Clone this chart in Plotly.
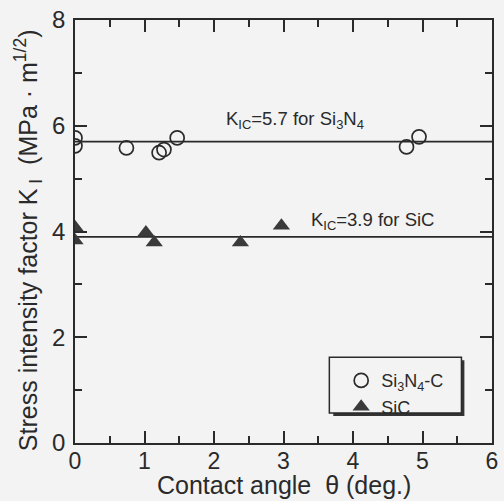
import plotly.graph_objects as go

# Data
si3n4_x = [0.0, 0.0, 0.74, 1.21, 1.28, 1.47, 4.77, 4.95]
si3n4_y = [5.77, 5.62, 5.58, 5.49, 5.55, 5.77, 5.60, 5.79]
sic_x = [0.0, 0.0, 1.02, 1.14, 2.38, 2.97]
sic_y = [4.08, 3.83, 3.98, 3.79, 3.79, 4.11]
kic_si3n4 = 5.7
kic_sic = 3.9
x_range = [0, 6]
y_range = [0, 8]

ink = "#2a2a2a"
paper = "#f3f3f3"
font = "Liberation Sans, Arial, sans-serif"

fig = go.Figure()

fig.add_trace(go.Scatter(x=x_range, y=[kic_si3n4, kic_si3n4], mode="lines",
                         line=dict(color=ink, width=1.8), showlegend=False, hoverinfo="skip"))
fig.add_trace(go.Scatter(x=x_range, y=[kic_sic, kic_sic], mode="lines",
                         line=dict(color=ink, width=1.8), showlegend=False, hoverinfo="skip"))

fig.add_trace(go.Scatter(x=si3n4_x, y=si3n4_y, mode="markers", name="Si<sub>3</sub>N<sub>4</sub>-C",
                         marker=dict(symbol="circle-open", size=14, color=ink, line=dict(width=1.7, color=ink))))
fig.add_trace(go.Scatter(x=sic_x, y=sic_y, mode="markers", name="SiC",
                         marker=dict(symbol="triangle-up", size=15, color="#3a3a3a", line=dict(width=0))))

fig.add_annotation(x=2.15, y=kic_si3n4, xref="x", yref="y", yshift=22,
                   text="K<sub>IC</sub>=5.7 for Si<sub>3</sub>N<sub>4</sub>", showarrow=False,
                   xanchor="left", font=dict(family=font, size=18.5, color=ink))
fig.add_annotation(x=3.37, y=kic_sic, xref="x", yref="y", yshift=16,
                   text="K<sub>IC</sub>=3.9 for SiC", showarrow=False,
                   xanchor="left", font=dict(family=font, size=18.5, color=ink))

# axis titles
fig.add_annotation(x=0.5, y=(443 - 485) / 424, xref="paper", yref="paper",
                   text="Contact angle  θ (deg.)", showarrow=False, xanchor="center", yanchor="middle",
                   font=dict(family=font, size=25, color=ink))
fig.add_annotation(x=(28 - 75) / 423, y=(443 - 240) / 424, xref="paper", yref="paper",
                   text="Stress intensity factor K<sub> I</sub>  (MPa · m<sup>1/2</sup>)", textangle=-90,
                   showarrow=False, xanchor="center", yanchor="middle",
                   font=dict(family=font, size=25, color=ink))

# legend shadow and frame
fig.add_shape(type="rect", xref="paper", yref="paper",
              x0=(337 - 75) / 423, x1=(470 - 75) / 423,
              y0=(443 - 416) / 424, y1=(443 - 360) / 424,
              fillcolor="#333333", line=dict(width=0), layer="below")
fig.add_shape(type="rect", xref="paper", yref="paper",
              x0=(333 - 75) / 423, x1=(467 - 75) / 423,
              y0=(443 - 413) / 424, y1=(443 - 357) / 424,
              fillcolor=paper, line=dict(width=1.5, color=ink), layer="below")

axis_common = dict(showgrid=False, zeroline=False, showline=True, linecolor=ink, linewidth=1.8,
                   mirror="allticks", ticks="inside", ticklen=12, tickwidth=1.5, tickcolor=ink)

fig.update_layout(
    width=504, height=501,
    margin=dict(l=75, r=6, t=19, b=58),
    paper_bgcolor=paper, plot_bgcolor=paper,
    font=dict(family=font, color=ink),
    xaxis=dict(range=x_range, dtick=1, tick0=0, ticklabelstandoff=-4,
               tickfont=dict(family=font, size=23, color=ink),
               minor=dict(dtick=0.5, ticks="inside", ticklen=7, tickwidth=1.5, tickcolor=ink),
               **axis_common),
    yaxis=dict(range=y_range, dtick=2, tick0=0, ticklabelstandoff=3,
               tickfont=dict(family=font, size=24, color=ink),
               minor=dict(dtick=1, ticks="inside", ticklen=7, tickwidth=1.5, tickcolor=ink),
               **axis_common),
    legend=dict(x=(345 - 75) / 423, y=(443 - 362) / 424, xanchor="left", yanchor="top",
                bgcolor="rgba(0,0,0,0)", borderwidth=0,
                font=dict(family=font, size=18, color=ink), tracegroupgap=0, itemwidth=30),
)

fig.write_html("out.html")
